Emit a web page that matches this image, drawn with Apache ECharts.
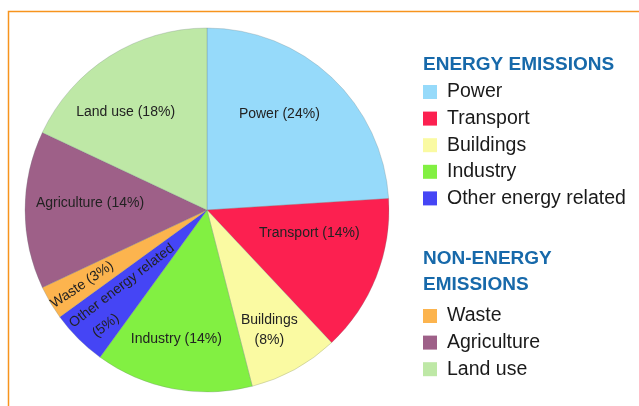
<!DOCTYPE html>
<html>
<head>
<meta charset="utf-8">
<script src="https://cdn.jsdelivr.net/npm/echarts@6/dist/echarts.min.js"></script>
<style>
html,body{margin:0;padding:0;background:#fff;}
#chart{width:639px;height:406px;}
</style>
</head>
<body>
<div id="chart"></div>
<script>
// ---- data ----
const categories = ['Power', 'Transport', 'Buildings', 'Industry', 'Other energy related', 'Waste', 'Agriculture', 'Land use'];
const shares = [24, 14, 8, 14, 5, 3, 14, 18];
const energyGroup = ['Power', 'Transport', 'Buildings', 'Industry', 'Other energy related'];
const nonEnergyGroup = ['Waste', 'Agriculture', 'Land use'];
const groupTitles = ['ENERGY EMISSIONS', 'NON-ENERGY\nEMISSIONS'];

// ---- styles ----
const colors = ['#96dafa', '#fc2050', '#fafaa2', '#82f042', '#4545f5', '#fcb44e', '#9e6088', '#bee8a6'];
const labelTexts = [
  'Power (24%)', 'Transport (14%)', 'Buildings\n(8%)', 'Industry (14%)',
  'Other energy related\n{p|(5%)}', 'Waste (3%)', 'Agriculture (14%)', 'Land use (18%)'
];
// screen-space shifts of labels from their default inside position
const labelShift = [[8, -27], [15, -11], [17, 38], [-13, 37], [-12, 18], [-44, 27], [-23, -7], [-31, -18]];
const labelRotate = [0, 0, 0, 0, 37.5, 34, 0, 0];

const chart = echarts.init(document.getElementById('chart'));
const pieData = categories.map((c, i) => ({
  name: c,
  value: shares[i],
  itemStyle: { color: colors[i] },
  label: {
    formatter: labelTexts[i],
    rotate: labelRotate[i],
    lineHeight: i === 4 ? 22 : 20
  }
}));

chart.setOption({
  animation: false,
  title: [
    { text: groupTitles[0], left: 423, top: 55, padding: 0,
      textStyle: { fontFamily: 'Liberation Sans', fontSize: 19, fontWeight: 'bold', color: '#1769aa', lineHeight: 20 } },
    { text: groupTitles[1], left: 423, top: 246, padding: 0,
      textStyle: { fontFamily: 'Liberation Sans', fontSize: 19, fontWeight: 'bold', color: '#1769aa', lineHeight: 26 } }
  ],
  legend: [
    { data: energyGroup, orient: 'vertical', left: 423, top: 82, padding: 0,
      itemWidth: 14, itemHeight: 14, itemGap: 6.6, icon: 'rect',
      itemStyle: { borderWidth: 0 },
      textStyle: { fontFamily: 'Liberation Sans', fontSize: 19.5, color: '#1a1a1a', lineHeight: 20, padding: [0, 0, 0, 5] } },
    { data: nonEnergyGroup, orient: 'vertical', left: 423, top: 306, padding: 0,
      itemWidth: 14, itemHeight: 14, itemGap: 6.6, icon: 'rect',
      itemStyle: { borderWidth: 0 },
      textStyle: { fontFamily: 'Liberation Sans', fontSize: 19.5, color: '#1a1a1a', lineHeight: 20, padding: [0, 0, 0, 5] } }
  ],
  graphic: [
    { type: 'polyline', silent: true,
      shape: { points: [[8.5, 406], [8.5, 11.5], [639, 11.5]] },
      style: { stroke: '#f7941d', lineWidth: 1.5, fill: null } }
  ],
  series: [{
    type: 'pie',
    center: [207, 210],
    radius: [0, 182],
    startAngle: 90,
    clockwise: true,
    data: pieData,
    itemStyle: { borderColor: 'rgba(110,125,125,0.45)', borderWidth: 0.6 },
    label: {
      show: true,
      position: 'inside',
      color: '#222',
      fontFamily: 'Liberation Sans',
      fontSize: 14,
      rich: { p: { fontFamily: 'Liberation Sans', fontSize: 14, color: '#222', padding: [0, 74, 0, 0] } }
    },
    labelLine: { show: false },
    emphasis: { disabled: true },
    labelLayout: function (params) {
      const s = labelShift[params.dataIndex];
      const t = labelRotate[params.dataIndex] * Math.PI / 180;
      const c = Math.cos(t), n = Math.sin(t);
      // shift is applied in the label's rotated frame; convert from screen space
      return { dx: s[0] * c - s[1] * n, dy: s[0] * n + s[1] * c };
    }
  }]
});
</script>
</body>
</html>
